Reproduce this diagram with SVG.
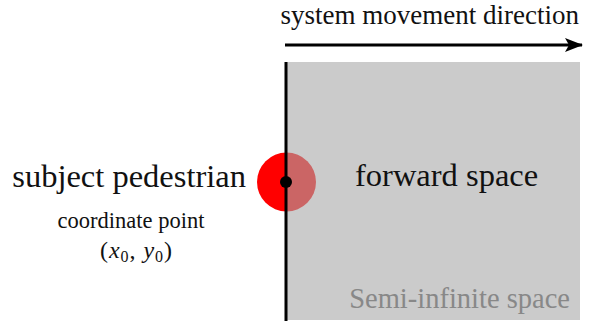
<svg xmlns="http://www.w3.org/2000/svg" width="592" height="327" viewBox="0 0 592 327">
<style>
text{font-family:"Liberation Serif","Times New Roman","DejaVu Serif",serif;fill:#111}
.big{font-size:32.5px}
.mid{font-size:27px}
.sm{font-size:22.5px}
</style>
<defs>
<marker id="ah" markerWidth="18" markerHeight="14" refX="17" refY="7" orient="auto" markerUnits="userSpaceOnUse" viewBox="0 0 18 14">
<path d="M0,0 L18,7 L0,14 L4,7 Z" fill="#000"/>
</marker>
</defs>
<rect width="592" height="327" fill="#fff"/>
<g id="pedestrian">
<circle cx="286.5" cy="182" r="29.5" fill="#ff0000"/>
</g>
<g id="forward-space">
<rect x="286" y="62" width="294" height="258" fill="#a9a9a9" fill-opacity="0.6"/>
<text class="big" x="355" y="186">forward space</text>
<text class="mid" x="570" y="308" text-anchor="end" style="fill:#888;font-size:28.5px">Semi-infinite space</text>
</g>
<g id="connectors">
<line x1="286" y1="62" x2="286" y2="321" stroke="#000" stroke-width="3"/>
<line x1="285" y1="45" x2="582" y2="45" stroke="#000" stroke-width="3" marker-end="url(#ah)"/>
</g>
<g id="point">
<circle cx="286" cy="182" r="6" fill="#000"/>
</g>
<g id="labels">
<text class="mid" x="579" y="24" text-anchor="end">system movement direction</text>
<text class="big" x="246" y="187" text-anchor="end">subject pedestrian</text>
<text class="sm" x="131" y="228" text-anchor="middle">coordinate point</text>
<text x="100" y="258" style="font-size:24px" textLength="72" lengthAdjust="spacing">(<tspan font-style="italic">x</tspan><tspan font-size="16" dy="4">0</tspan><tspan dy="-4">, </tspan><tspan font-style="italic">y</tspan><tspan font-size="16" dy="4">0</tspan><tspan dy="-4">)</tspan></text>
</g>
</svg>
